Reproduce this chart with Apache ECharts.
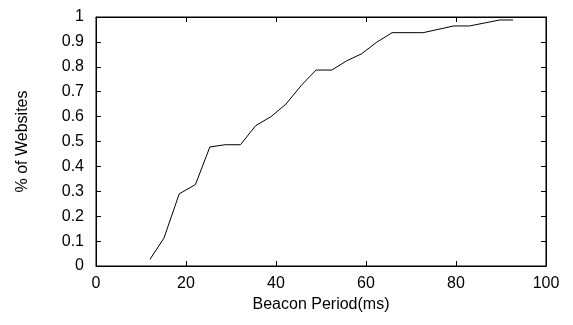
<!DOCTYPE html>
<html><head><meta charset="utf-8">
<script src="https://cdn.jsdelivr.net/npm/echarts@6/dist/echarts.min.js"></script>
<style>html,body{margin:0;padding:0;background:#fff}#c{width:573px;height:325px}</style>
</head><body><div id="c"></div>
<script>
const periodMs = [12.0, 15.1, 18.5, 22.1, 25.3, 28.7, 32.1, 35.5, 38.9, 42.2, 45.7, 48.9, 52.4, 55.7, 59.0, 62.4, 65.8, 72.7, 79.5, 83.0, 89.7, 92.7];
const fracWebsites = [0.027, 0.112, 0.29, 0.327, 0.478, 0.487, 0.487, 0.564, 0.600, 0.650, 0.727, 0.787, 0.787, 0.824, 0.852, 0.899, 0.937, 0.937, 0.964, 0.964, 0.988, 0.988];
const xTicks = [0, 20, 40, 60, 80, 100];
const yTicks = [0, 0.1, 0.2, 0.3, 0.4, 0.5, 0.6, 0.7, 0.8, 0.9, 1];

const chart = echarts.init(document.getElementById('c'), null, {renderer: 'canvas'});
const font = 'Liberation Sans';
const axLine = {show: true, onZero: false, lineStyle: {color: '#000', width: 1}};
const tickIn = {show: true, inside: true, length: 5, lineStyle: {color: '#000', width: 1}};
chart.setOption({
  animation: false,
  backgroundColor: '#fff',
  grid: {left: 96, right: 27, top: 17, bottom: 59, containLabel: false,
    show: true, borderColor: '#000', borderWidth: 1, backgroundColor: 'transparent'},
  xAxis: [{
    type: 'value', min: xTicks[0], max: xTicks[xTicks.length - 1], interval: 20,
    axisLine: axLine, axisTick: tickIn, splitLine: {show: false},
    axisLabel: {color: '#000', fontFamily: font, fontSize: 16, margin: 10},
    name: 'Beacon Period(ms)', nameLocation: 'middle', nameGap: 30,
    nameTextStyle: {color: '#000', fontFamily: font, fontSize: 16}
  }, {
    type: 'value', position: 'top', min: 0, max: 100, interval: 20,
    axisLine: axLine, axisTick: tickIn, axisLabel: {show: false}, splitLine: {show: false}
  }],
  yAxis: [{
    type: 'value', min: yTicks[0], max: yTicks[yTicks.length - 1], interval: 0.1,
    axisLine: axLine, axisTick: tickIn, splitLine: {show: false},
    axisLabel: {color: '#000', fontFamily: font, fontSize: 16, margin: 12,
      formatter: v => String(parseFloat(v.toFixed(1)))},
    name: '% of Websites', nameLocation: 'middle', nameGap: 65, nameRotate: 90,
    nameTextStyle: {color: '#000', fontFamily: font, fontSize: 16}
  }, {
    type: 'value', position: 'right', min: 0, max: 1, interval: 0.1,
    axisLine: axLine, axisTick: tickIn, axisLabel: {show: false}, splitLine: {show: false}
  }],
  series: [{
    type: 'line', xAxisIndex: 0, yAxisIndex: 0,
    data: periodMs.map((x, i) => [x, fracWebsites[i]]),
    showSymbol: false, symbol: 'none',
    lineStyle: {color: '#000', width: 1}
  }, {
    type: 'line', xAxisIndex: 1, yAxisIndex: 1, data: [], silent: true,
    showSymbol: false, symbol: 'none'
  }]
});
</script></body></html>
